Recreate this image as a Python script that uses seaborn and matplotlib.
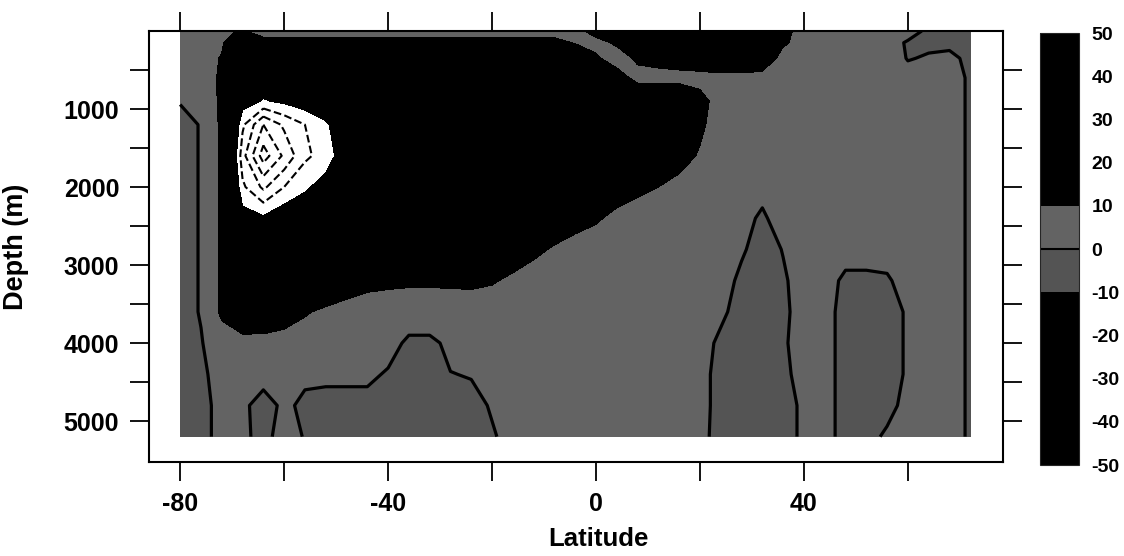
import numpy as np
import matplotlib
matplotlib.use("Agg")
import matplotlib.pyplot as plt
import seaborn as sns

# ---------------- data ----------------
latitudes = [-80, -76, -72, -68, -64, -60, -56, -52, -48, -44, -40, -36, -32,
             -28, -24, -20, -16, -12, -8, -4, 0, 4, 8, 12, 16, 20, 24, 28, 32,
             36, 40, 44, 48, 52, 56, 60, 64, 68, 72]
depths = [0, 150, 350, 600, 900, 1200, 1600, 2000, 2400, 2800, 3200, 3600,
          4000, 4400, 4800, 5200]

# streamfunction (Sv): one profile (over `depths`) per latitude
psi_profiles = [
    [2, 2, 2, 2, 0.5, -3, -3, -3, -3, -3, -3, -3, -3, -3, -3, -3],          # -80
    [4, 4, 4, 4, 3, 0.5, 0.5, 0.5, 0.5, 0.5, 0.5, 0.5, -0.5, -1, -1, -1],   # -76
    [6, 8, 11, 12, 12, 12, 12, 12, 12, 12, 12, 12, 5, 2, 1, 1],             # -72
    [12, 30, 35, 38, 45, 58, 66, 58, 45, 35, 25, 20, 6, 2, 1, 1],           # -68
    [1, 18, 38, 42, 51, 80, 95, 72, 48, 35, 28, 22, 5, 2, -2, -1.5],        # -64
    [1, 18, 38, 40, 48, 68, 78, 60, 42, 34, 27, 15, 6, 2, 1, 2],            # -60
    [1, 18, 36, 38, 44, 60, 62, 52, 40, 32, 25, 11, 5, 1, -1, -0.3],        # -56
    [1, 18, 35, 36, 40, 52, 56, 45, 36, 28, 20, 8, 4, 1, -1.5, -1.5],       # -52
    [1, 18, 35, 35, 38, 40, 42, 38, 32, 26, 16, 6, 3, 1, -1.5, -1.5],       # -48
    [1, 18, 35, 35, 37, 38, 38, 35, 30, 24, 13, 5, 3, 1, -1.5, -1.5],       # -44
    [1, 18, 34, 35, 36, 36, 36, 33, 28, 22, 12, 5, 2, -0.5, -1.5, -1.5],    # -40
    [1, 18, 34, 35, 35, 35, 35, 32, 27, 21, 12, 3, -1, -2, -2, -2],         # -36
    [1, 18, 34, 35, 34, 34, 34, 31, 26, 20, 12, 3, -1, -2, -2, -2],         # -32
    [1, 18, 34, 34, 34, 34, 33, 30, 25, 19, 12, 4, 1, -0.1, -2, -2],        # -28
    [1, 18, 33, 34, 34, 33, 32, 29, 24, 18, 12, 5, 2, 0.2, -1, -1.5],       # -24
    [1, 18, 33, 34, 33, 33, 31, 28, 23, 17, 11, 4, 2, 1, 0.3, -0.3],        # -20
    [1, 18, 33, 33, 33, 32, 30, 27, 22, 16, 8, 4, 2, 1, 1, 1],              # -16
    [1, 18, 32, 33, 32, 31, 29, 26, 20, 12, 6, 3, 2, 1, 1, 1],              # -12
    [3, 15, 32, 33, 32, 30, 28, 24, 16, 9, 5, 3, 2, 1, 1, 1],               # -8
    [6, 9, 24, 32, 31, 29, 26, 20, 13, 7, 4, 3, 2, 1, 1, 1],                # -4
    [15, 6, 12, 28, 30, 28, 24, 17, 11, 6, 4, 3, 2, 1, 1, 1],               # 0
    [25, 12, 4, 16, 29, 26, 22, 14, 8, 5, 4, 3, 2, 1, 1, 1],                # 4
    [30, 20, 12, 6, 24, 25, 20, 12, 6, 4, 3, 2, 2, 1, 1, 1],                # 8
    [30, 25, 14, 6, 24, 24, 18, 10, 5, 4, 3, 2, 2, 1, 1, 1],                # 12
    [30, 28, 16, 6, 22, 22, 14, 7, 4, 3, 3, 2, 2, 1, 1, 1],                 # 16
    [30, 28, 18, 6, 14, 12, 9, 6, 4, 3, 3, 2, 1, 1, 1, 0.8],                # 20
    [30, 30, 25, 5, 5, 5, 5, 4, 3, 2, 1, 0.5, -0.5, -1, -1, -1],            # 24
    [30, 30, 25, 5, 5, 5, 5, 4, 1, 0.3, -0.5, -1, -1, -1, -1, -1],          # 28
    [25, 25, 20, 5, 5, 5, 4, 1, -0.5, -1, -1, -1, -1, -1, -1, -1],          # 32
    [14, 12, 5, 4, 4, 4, 4, 3, 1.5, 0.1, -0.3, -0.5, -0.3, -0.5, -1, -1],   # 36
    [5, 5, 4, 4, 4, 4, 4, 3, 2, 1, 1, 1, 1, 0.8, 0.5, 0.5],                 # 40
    [4, 4, 4, 4, 4, 4, 4, 3, 2, 1, 1, 1, 1, 1, 1, 1],                       # 44
    [4, 4, 4, 4, 4, 4, 4, 3, 2, 1, -0.5, -1, -1, -1, -1, -1],               # 48
    [4, 4, 4, 4, 4, 4, 4, 3, 2, 1, -0.5, -1, -1, -1, -1, -1],               # 52
    [3, 2, 3, 4, 4, 4, 4, 3, 2, 1, -0.3, -1, -1, -1, -1, 0.5],              # 56
    [2, -0.5, -0.3, 2, 3, 3, 3, 3, 2, 1, 1, 0.3, 0.3, 0.3, 1, 1],           # 60
    [-1, -1, 0.5, 2, 3, 3, 3, 3, 2, 1, 1, 1, 1, 1, 1, 1],                   # 64
    [-1, -1, 1, 3, 3, 3, 3, 3, 3, 3, 3, 3, 3, 3, 3, 3],                     # 68
    [-2, -2, -1, -1, -1, -1, -1, -1, -1, -1, -1, -1, -1, -1, -1, -1],       # 72
]

fill_levels = [-50, -10, 0, 10, 50]
fill_colors = ["#000000", "#545454", "#636363", "#000000"]
zero_level = [0]
dashed_levels = [60, 70, 80, 90]
cbar_ticks = [-50, -40, -30, -20, -10, 0, 10, 20, 30, 40, 50]
lat_ticks = [-80, -60, -40, -20, 0, 20, 40, 60]
lat_labels = ["-80", "", "-40", "", "0", "", "40", ""]
depth_ticks = [500, 1000, 1500, 2000, 2500, 3000, 3500, 4000, 4500, 5000]
depth_labels = ["", "1000", "", "2000", "", "3000", "", "4000", "", "5000"]

# ---------------- style ----------------
sns.set_style("ticks")
plt.rcParams["font.family"] = ["Liberation Sans", "DejaVu Sans"]
plt.rcParams["font.weight"] = "bold"
plt.rcParams["axes.labelweight"] = "bold"
plt.rcParams["axes.unicode_minus"] = False
plt.rcParams["text.color"] = "black"
plt.rcParams["axes.labelcolor"] = "black"
plt.rcParams["xtick.color"] = "black"
plt.rcParams["ytick.color"] = "black"

W, H = 1124, 556
fig = plt.figure(figsize=(W / 100, H / 100), dpi=100)
fig.patch.set_facecolor("white")
ax = fig.add_axes([149 / W, 1 - 462 / H, 854 / W, 431 / H])
cax = fig.add_axes([1040 / W, 1 - 465 / H, 39 / W, 432 / H])

LAT, DEP = np.meshgrid(np.array(latitudes, float), np.array(depths, float))
PSI = np.array(psi_profiles, float).T

cf = ax.contourf(LAT, DEP, PSI, levels=fill_levels, colors=fill_colors,
                 antialiased=False)
ax.contour(LAT, DEP, PSI, levels=zero_level, colors="k", linewidths=2.3)
ax.contour(LAT, DEP, PSI, levels=dashed_levels, colors="k", linewidths=1.5,
           linestyles="--")

ax.set_xlim(-86, 78.3)
ax.set_ylim(5525, 0)
ax.set_facecolor("white")

ax.set_xticks(lat_ticks)
ax.set_xticklabels(lat_labels)
ax.set_yticks(depth_ticks)
ax.set_yticklabels(depth_labels)
ax.tick_params(axis="both", which="major", direction="out", length=13.5,
               width=1.3, labelsize=18, color="k", labelcolor="k")
ax.tick_params(axis="x", top=True, bottom=True, pad=8)
ax.tick_params(axis="y", left=True, right=True, pad=8)
for s in ax.spines.values():
    s.set_linewidth(1.5)
    s.set_color("k")
for lab in ax.get_xticklabels() + ax.get_yticklabels():
    lab.set_fontweight("bold")

ax.set_xlabel("Latitude", fontsize=18.5, fontweight="bold")
ax.set_ylabel("Depth (m)", fontsize=19.5, fontweight="bold")
ax.xaxis.set_label_coords((598 - 149) / 854, -0.150)
ax.yaxis.set_label_coords(-0.141, 0.5)

cb = fig.colorbar(cf, cax=cax, ticks=cbar_ticks, spacing="proportional")
cb.ax.tick_params(length=0, labelsize=14, pad=9, labelcolor="k")
cb.ax.axhline(0, color="k", lw=1.5)
cb.outline.set_linewidth(0.8)
for lab in cb.ax.get_yticklabels():
    lab.set_fontweight("bold")

fig.savefig("out.png", dpi=100, facecolor="white")
